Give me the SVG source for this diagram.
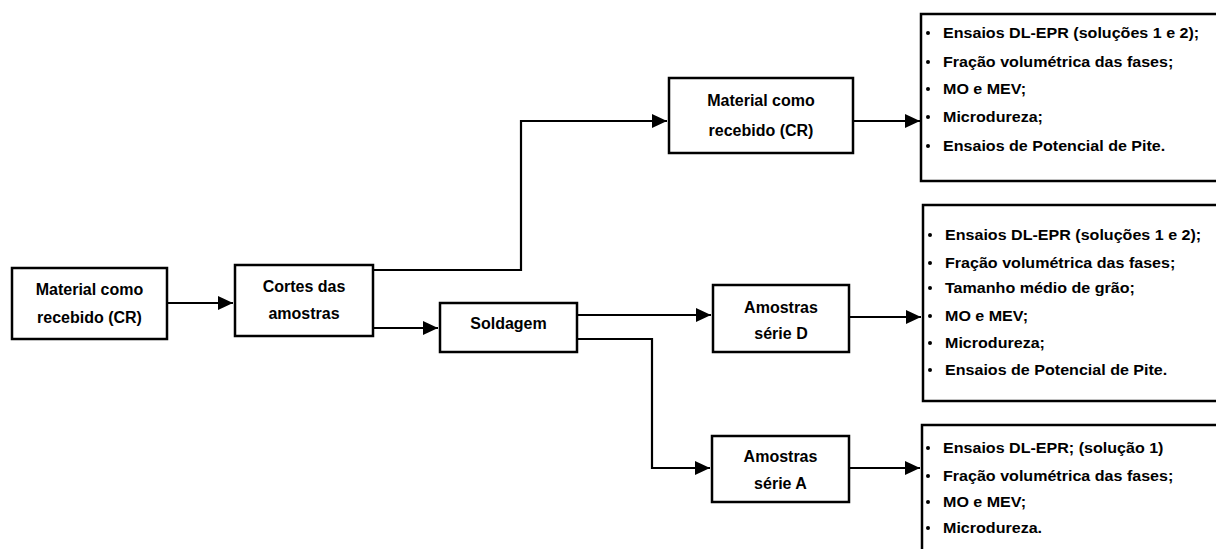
<svg xmlns="http://www.w3.org/2000/svg" width="1216" height="549" viewBox="0 0 1216 549">
  <style>
    .box { fill: #ffffff; stroke: #000000; stroke-width: 2.5; }
    .lbl { font-family: "Liberation Sans", Arial, sans-serif; font-weight: bold; font-size: 16px; fill: #000000; text-anchor: middle; }
    .item { font-family: "Liberation Sans", Arial, sans-serif; font-weight: bold; font-size: 14px; fill: #000000; }
    .wire { fill: none; stroke: #000000; stroke-width: 2.2; }
    .dot { fill: #000000; }
  </style>
  <defs>
    <marker id="arrow" markerUnits="userSpaceOnUse" markerWidth="16" markerHeight="14" refX="15" refY="7" orient="auto">
      <path d="M0,0 L15,7 L0,14 Z" fill="#000000"/>
    </marker>
  </defs>

  <!-- connectors -->
  <g id="connectors">
    <path class="wire" d="M167,303 H233" marker-end="url(#arrow)"/>
    <path class="wire" d="M373,270 H521 V121 H667" marker-end="url(#arrow)"/>
    <path class="wire" d="M373,328 H438" marker-end="url(#arrow)"/>
    <path class="wire" d="M577,315 H711" marker-end="url(#arrow)"/>
    <path class="wire" d="M577,339 H652 V468 H710" marker-end="url(#arrow)"/>
    <path class="wire" d="M853,121 H920" marker-end="url(#arrow)"/>
    <path class="wire" d="M849,317 H921" marker-end="url(#arrow)"/>
    <path class="wire" d="M849,468 H920" marker-end="url(#arrow)"/>
  </g>

  <g id="material-cr-in">
    <rect class="box" x="12" y="268" width="155" height="71"/>
    <text class="lbl" x="89.5" y="295">Material como</text>
    <text class="lbl" x="89.5" y="323">recebido (CR)</text>
  </g>

  <g id="cortes">
    <rect class="box" x="235" y="265" width="138" height="71"/>
    <text class="lbl" x="304" y="292">Cortes das</text>
    <text class="lbl" x="304" y="319">amostras</text>
  </g>

  <g id="soldagem">
    <rect class="box" x="440" y="303" width="137" height="49"/>
    <text class="lbl" x="508.5" y="329">Soldagem</text>
  </g>

  <g id="material-cr">
    <rect class="box" x="669" y="78" width="184" height="75"/>
    <text class="lbl" x="761" y="106">Material como</text>
    <text class="lbl" x="761" y="136">recebido (CR)</text>
  </g>

  <g id="serie-d">
    <rect class="box" x="713" y="285" width="136" height="67"/>
    <text class="lbl" x="781" y="313">Amostras</text>
    <text class="lbl" x="781" y="339">série D</text>
  </g>

  <g id="serie-a">
    <rect class="box" x="712" y="436" width="137" height="66"/>
    <text class="lbl" x="780.5" y="462">Amostras</text>
    <text class="lbl" x="780.5" y="489">série A</text>
  </g>

  <g id="ensaios-cr">
    <rect class="box" x="921" y="14" width="310" height="167"/>
    <circle class="dot" cx="928" cy="33" r="2"/>
    <circle class="dot" cx="928" cy="62" r="2"/>
    <circle class="dot" cx="928" cy="89" r="2"/>
    <circle class="dot" cx="928" cy="117" r="2"/>
    <circle class="dot" cx="928" cy="146" r="2"/>
    <g transform="translate(943,0) scale(1.148,1)">
      <text class="item" x="0" y="38">Ensaios DL-EPR (soluções 1 e 2);</text>
      <text class="item" x="0" y="67">Fração volumétrica das fases;</text>
      <text class="item" x="0" y="94">MO e MEV;</text>
      <text class="item" x="0" y="122">Microdureza;</text>
      <text class="item" x="0" y="151">Ensaios de Potencial de Pite.</text>
    </g>
  </g>

  <g id="ensaios-d">
    <rect class="box" x="923" y="205" width="310" height="196"/>
    <circle class="dot" cx="930" cy="235" r="2"/>
    <circle class="dot" cx="930" cy="263" r="2"/>
    <circle class="dot" cx="930" cy="288" r="2"/>
    <circle class="dot" cx="930" cy="316" r="2"/>
    <circle class="dot" cx="930" cy="343" r="2"/>
    <circle class="dot" cx="930" cy="370" r="2"/>
    <g transform="translate(945,0) scale(1.148,1)">
      <text class="item" x="0" y="240">Ensaios DL-EPR (soluções 1 e 2);</text>
      <text class="item" x="0" y="268">Fração volumétrica das fases;</text>
      <text class="item" x="0" y="293">Tamanho médio de grão;</text>
      <text class="item" x="0" y="321">MO e MEV;</text>
      <text class="item" x="0" y="348">Microdureza;</text>
      <text class="item" x="0" y="375">Ensaios de Potencial de Pite.</text>
    </g>
  </g>

  <g id="ensaios-a">
    <rect class="box" x="922" y="425" width="310" height="140"/>
    <circle class="dot" cx="928" cy="448" r="2"/>
    <circle class="dot" cx="928" cy="476" r="2"/>
    <circle class="dot" cx="928" cy="502" r="2"/>
    <circle class="dot" cx="928" cy="528" r="2"/>
    <g transform="translate(943,0) scale(1.148,1)">
      <text class="item" x="0" y="453">Ensaios DL-EPR; (solução 1)</text>
      <text class="item" x="0" y="481">Fração volumétrica das fases;</text>
      <text class="item" x="0" y="507">MO e MEV;</text>
      <text class="item" x="0" y="533">Microdureza.</text>
    </g>
  </g>
</svg>
